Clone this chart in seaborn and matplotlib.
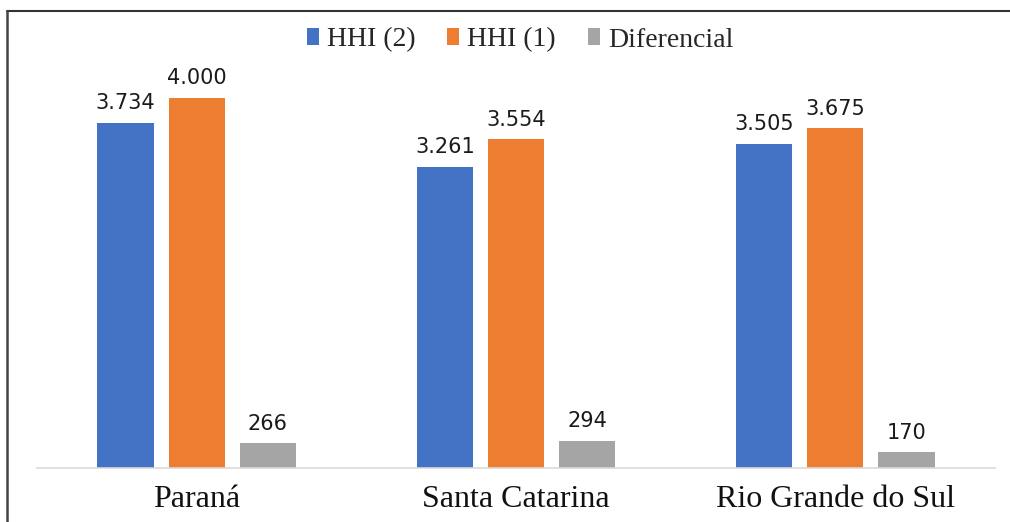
import matplotlib
matplotlib.use("Agg")
import matplotlib.pyplot as plt
from matplotlib.lines import Line2D
from matplotlib.patches import Patch
import seaborn as sns
import pandas as pd

# Estados e índices
estados = ["Paraná", "Santa Catarina", "Rio Grande do Sul"]
hhi_2 = [3734, 3261, 3505]
hhi_1 = [4000, 3554, 3675]
diferencial = [266, 294, 170]
series = ["HHI (2)", "HHI (1)", "Diferencial"]
cores = ["#4472C4", "#ED7D31", "#A5A5A5"]

df = pd.DataFrame({
    "estado": estados * 3,
    "serie": [series[0]] * 3 + [series[1]] * 3 + [series[2]] * 3,
    "valor": hhi_2 + hhi_1 + diferencial,
})

sns.set_theme(style="white")
serif = ["Liberation Serif", "DejaVu Serif"]

fig = plt.figure(figsize=(10.10, 5.22), dpi=100)
ax = fig.add_axes([37 / 1010, 54 / 522, 958 / 1010, 416 / 522])

sns.barplot(data=df, x="estado", y="valor", hue="serie", order=estados,
            hue_order=series, palette=cores, width=0.668, gap=0.21,
            saturation=1, legend=False, ax=ax, errorbar=None, linewidth=0)

ax.set_xlim(-0.5, 2.5)
ax.set_ylim(0, 4500)

def fmt(v):
    return f"{v:,}".replace(",", ".")

for cont in ax.containers:
    ax.bar_label(cont, labels=[fmt(int(b.get_height())) for b in cont],
                 padding=7, fontsize=15, family="DejaVu Sans", color="#1a1a1a")

ax.set_xlabel("")
ax.set_ylabel("")
ax.set_yticks([])
ax.tick_params(axis="x", length=0, pad=12.5)
for lbl in ax.get_xticklabels():
    lbl.set_family(serif)
    lbl.set_fontsize(23)
    lbl.set_color("#111111")

for s in ["top", "right", "left"]:
    ax.spines[s].set_visible(False)
ax.spines["bottom"].set_color("#d9d9d9")
ax.spines["bottom"].set_linewidth(1.2)

handles = [Patch(facecolor=c, edgecolor="none") for c in cores]
fig.legend(handles, series, loc="center", bbox_to_anchor=(0.515, 1 - 40 / 522),
           ncol=3, frameon=False, prop={"family": serif, "size": 20},
           handlelength=0.42, handleheight=0.55, handletextpad=0.3,
           columnspacing=1.15)

# Moldura superior e esquerda
fig.add_artist(Line2D([7 / 1010, 1.0], [1 - 11 / 522, 1 - 11 / 522],
                      transform=fig.transFigure, color="#333333", lw=1.5))
fig.add_artist(Line2D([7 / 1010, 7 / 1010], [0.0, 1 - 11 / 522],
                      transform=fig.transFigure, color="#444444", lw=1.8))

fig.savefig("out.png", dpi=100)
